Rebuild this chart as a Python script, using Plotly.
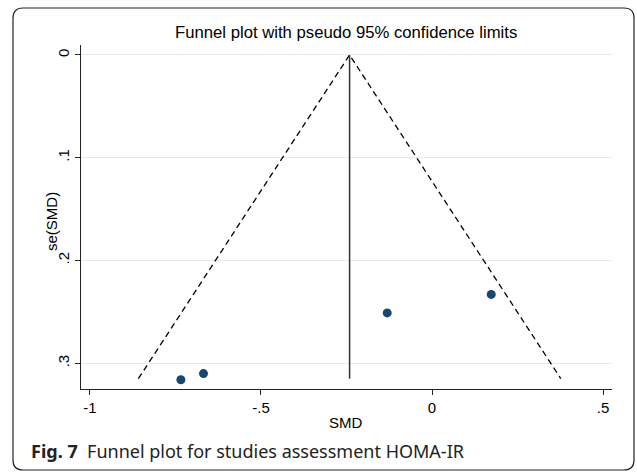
import plotly.graph_objects as go

# Data
smd = [-0.734, -0.668, -0.131, 0.173]
se_smd = [0.316, 0.310, 0.251, 0.233]
pooled_smd = -0.241
se_max = 0.315
z95 = 1.96

x_ticks = [-1, -0.5, 0, 0.5]
x_tick_text = ["-1", "-.5", "0", ".5"]
y_ticks = [0, 0.1, 0.2, 0.3]
y_tick_text = ["0", ".1", ".2", ".3"]

W, H = 637, 474
L, R, T, B = 81, 612, 45, 389  # plot area pixels


def px(X):
    return (X - L) / (R - L)


def py(Y):
    return (B - Y) / (B - T)


fig = go.Figure()

# pseudo 95% confidence limits
fig.add_trace(go.Scatter(
    x=[pooled_smd - z95 * se_max, pooled_smd, pooled_smd + z95 * se_max],
    y=[se_max, 0, se_max],
    mode="lines",
    line=dict(color="black", width=1.3, dash="6px,4px"),
    hoverinfo="skip", showlegend=False))

# pooled estimate line
fig.add_trace(go.Scatter(
    x=[pooled_smd, pooled_smd], y=[0, se_max],
    mode="lines", line=dict(color="#333333", width=1.5),
    hoverinfo="skip", showlegend=False))

# studies
fig.add_trace(go.Scatter(
    x=smd, y=se_smd, mode="markers",
    marker=dict(color="#1a476f", size=9),
    showlegend=False))

# outer rounded frame
fr = 10
X0, X1, Y0, Y1 = 13, 634, 8, 470


def P(X, Y):
    return f"{px(X):.5f},{py(Y):.5f}"


path = (f"M {P(X0 + fr, Y0)} L {P(X1 - fr, Y0)} Q {P(X1, Y0)} {P(X1, Y0 + fr)} "
        f"L {P(X1, Y1 - fr)} Q {P(X1, Y1)} {P(X1 - fr, Y1)} "
        f"L {P(X0 + fr, Y1)} Q {P(X0, Y1)} {P(X0, Y1 - fr)} "
        f"L {P(X0, Y0 + fr)} Q {P(X0, Y0)} {P(X0 + fr, Y0)} Z")

fig.add_shape(type="path", path=path, xref="paper", yref="paper",
              line=dict(color="#222222", width=1.2), layer="below")

fig.add_annotation(
    text="Funnel plot with pseudo 95% confidence limits",
    x=px(346), y=py(33), xref="paper", yref="paper",
    xanchor="center", yanchor="middle", showarrow=False,
    font=dict(family="Liberation Sans, Arial", size=16.7, color="black"))

fig.add_annotation(
    text="<b>Fig. 7</b>  Funnel plot for studies assessment HOMA-IR",
    x=px(29), y=py(451), xref="paper", yref="paper",
    xanchor="left", yanchor="middle", showarrow=False,
    font=dict(family="Noto Sans", size=18, color="#222222"))

fig.add_annotation(
    text="SMD", x=px(346), y=py(422), xref="paper", yref="paper",
    xanchor="center", yanchor="middle", showarrow=False,
    font=dict(family="Liberation Sans, Arial", size=15, color="black"))

fig.add_annotation(
    text="se(SMD)", x=px(51), y=py(222), xref="paper", yref="paper",
    xanchor="center", yanchor="middle", showarrow=False, textangle=-90,
    font=dict(family="Liberation Sans, Arial", size=15, color="black"))

ax_font = dict(family="Liberation Sans, Arial", size=15, color="black")

fig.update_layout(
    width=W, height=H,
    margin=dict(l=L, r=W - R, t=T, b=H - B),
    paper_bgcolor="white", plot_bgcolor="white",
    xaxis=dict(range=[-1.026, 0.526], tickvals=x_ticks, ticktext=x_tick_text,
               showgrid=False, zeroline=False, showline=True,
               linecolor="#222222", linewidth=1.2,
               ticks="outside", ticklen=5, tickcolor="#222222", tickwidth=1,
               tickfont=ax_font),
    yaxis=dict(range=[0.325, -0.0097], tickvals=y_ticks, ticktext=y_tick_text,
               showgrid=True, gridcolor="#e3edf0", gridwidth=1,
               zeroline=False, showline=True,
               linecolor="#222222", linewidth=1.2,
               ticks="outside", ticklen=5, tickcolor="#222222", tickwidth=1,
               tickangle=-90, tickfont=ax_font),
)

fig.write_html("out.html")
